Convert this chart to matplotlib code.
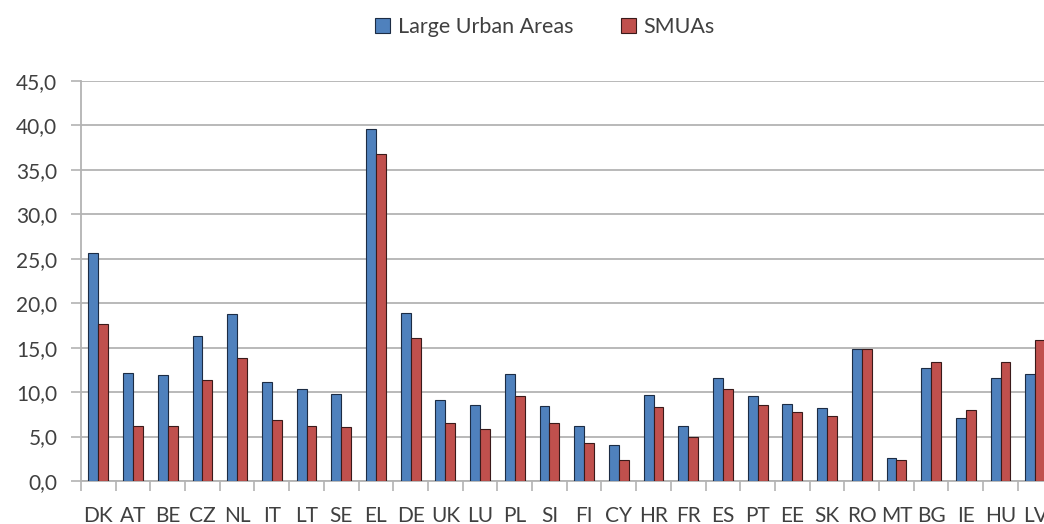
import matplotlib

matplotlib.use("Agg")
import matplotlib.pyplot as plt
import numpy as np
from matplotlib.ticker import FixedLocator, FuncFormatter

plt.rcParams["font.family"] = ["Lato", "DejaVu Sans"]

countries = ["DK", "AT", "BE", "CZ", "NL", "IT", "LT", "SE", "EL", "DE", "UK", "LU",
             "PL", "SI", "FI", "CY", "HR", "FR", "ES", "PT", "EE", "SK", "RO", "MT",
             "BG", "IE", "HU", "LV"]
large_urban = [25.6, 12.2, 11.9, 16.3, 18.8, 11.1, 10.4, 9.75, 39.6, 18.9, 9.1, 8.6,
               12.0, 8.4, 6.2, 4.1, 9.7, 6.2, 11.6, 9.6, 8.7, 8.2, 14.9, 2.55,
               12.7, 7.05, 11.55, 12.0]
smuas = [17.7, 6.2, 6.2, 11.4, 13.8, 6.9, 6.2, 6.1, 36.8, 16.1, 6.5, 5.9,
         9.6, 6.5, 4.3, 2.4, 8.3, 5.0, 10.4, 8.6, 7.8, 7.3, 14.8, 2.4,
         13.4, 8.0, 13.4, 15.9]
series_names = ["Large Urban Areas", "SMUAs"]

BLUE = "#4F81BD"
RED = "#C0504D"
GRID = "#b3b3b3"
TXT = "#404040"

W, H = 1044, 524
fig = plt.figure(figsize=(W / 100, H / 100), dpi=100)
# the plot runs past the right edge of the picture (LV is cut off, as in the source)
n_cat = len(countries) + 1
ax = fig.add_axes([81 / W, (H - 481) / H, 34.7 * n_cat / W, 400 / H])

x = np.arange(len(countries))
bw = 0.285
ax.bar(x - bw / 2, large_urban, bw, color=BLUE, edgecolor="#1c2c44", linewidth=0.8,
       label=series_names[0], zorder=3)
ax.bar(x + bw / 2, smuas, bw, color=RED, edgecolor="#3a1a1a", linewidth=0.8,
       label=series_names[1], zorder=3)

ax.set_xlim(-0.5, n_cat - 0.5)
ax.set_ylim(0, 45)
ax.set_yticks(np.arange(0, 46, 5))
ax.yaxis.set_major_formatter(FuncFormatter(lambda v, p: f"{v:.1f}".replace(".", ",")))
ax.grid(axis="y", color=GRID, linewidth=1.3, zorder=0)

ax.set_xticks(x)
ax.set_xticklabels(countries)
ax.xaxis.set_minor_locator(FixedLocator(np.arange(-0.5, n_cat, 1.0)))
ax.tick_params(axis="x", which="major", length=0, pad=18, labelsize=15, labelcolor=TXT)
ax.tick_params(axis="x", which="minor", length=7, width=1.2, color=GRID)
ax.tick_params(axis="y", length=7, width=1.2, color=GRID, labelsize=15, labelcolor=TXT, pad=10)

for s in ["top", "right"]:
    ax.spines[s].set_visible(False)
for s in ["left", "bottom"]:
    ax.spines[s].set_color(GRID)
    ax.spines[s].set_linewidth(1.3)

handles, labels = ax.get_legend_handles_labels()
fig.legend(handles, labels, loc="center", bbox_to_anchor=(545 / W, 1 - 27 / H), ncol=2,
           frameon=False, fontsize=15.5, labelcolor=TXT, handlelength=0.7, handleheight=0.7,
           handletextpad=0.35, columnspacing=2.2)

fig.savefig("out.png", dpi=100, facecolor="white")
